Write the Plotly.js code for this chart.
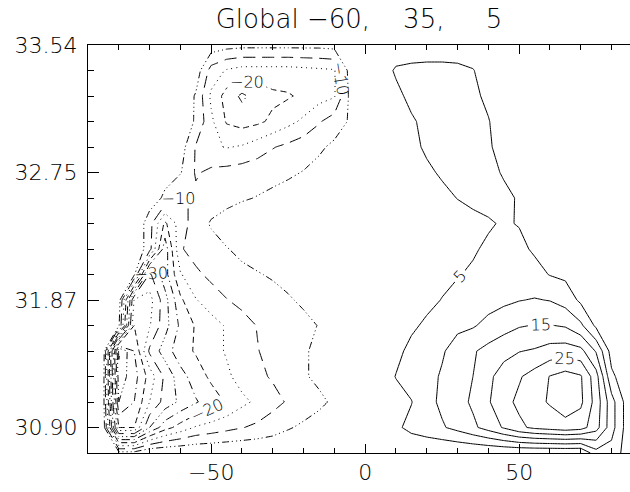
<!DOCTYPE html>
<html><head><meta charset="utf-8">
<script src="https://cdn.plot.ly/plotly-3.0.1.min.js"></script>
<style>html,body{margin:0;padding:0;background:#fff;}#chart{width:630px;height:492px;}</style>
</head><body><div id="chart"></div>
<script>
// grid: longitude columns and level rows
const lon = [-90,-85,-80,-75,-70,-65,-60,-55,-50,-45,-40,-35,-30,-25,-20,-15,-10,-5,0,5,10,15,20,25,30,35,40,45,50,55,60,65,70,75,80,85,90];
const lev = [0,1,2,3,4,5,6,7,8,9,10,11,12,13,14,15,16];

const row00 = [0,0,-3,-3,0,0,0,0,0,0,0,0,0,0,0,0,0,0,0, 0,0,0,0,0,0,0,0,0,0,0,0,0,0,8,8,3,0];
const row01 = [0,-2,-45,-45,-30,-22,-18,-14.5,-13,-11.5,-10.2,-9,-7.5,-5.5,-4,-3,-2,-1,0, 1,4,6.5,8,9.5,11.5,14,17,20.5,24,26,27,28,27,22,12,3,0];
const row02 = [0,-3,-55,-50,-40,-33,-29,-25.5,-22.5,-19.5,-16.2,-14,-11.5,-9.5,-8,-6,-4.2,-2.5,-1, 1,3,4.8,8.4,11,13.2,15.8,19.5,23.5,26,28.5,30.5,33,31,23,12,3,0];
const row03 = [0,-3,-58,-52,-43,-34,-27,-22.5,-19,-16,-13,-11,-9.5,-7.5,-5.5,-4,-2.5,-1.5,-0.5, 2,5.2,7,8.5,10.5,12.5,15,19,22,24.5,27,30.2,32,30.5,22,6,2,0];
const row04 = [0,-2,-61,-50,-34,-27.5,-22,-19.5,-17,-14.5,-12.5,-10.2,-8.5,-7,-5.5,-4,-3,-2,-1, 1,3.5,6.5,8,9.5,12,14.5,16.5,18.5,19.8,20.5,22,22.5,21.5,14.5,3,1,0];
const row05 = [0,-1,-4,-45,-40.5,-32,-24,-19.5,-17,-14.5,-12,-9.8,-8.5,-7.5,-6.3,-4.8,-3.5,-2.5,-1, 0.5,2,4,6,7.5,9,9.5,11.5,13,14.6,15.2,15.2,14.5,11,4,1,0.5,0];
const row06 = [0,0,-2,-40.5,-42,-32,-21,-15.3,-12.5,-10.2,-8.6,-7.6,-6.6,-5.5,-4.2,-3,-2,-1,0, 0.5,1.5,2.5,3.5,5.2,6,7,8,9,9.8,10.3,9.8,8,4,2,1,0.5,0];
const row07 = [0,0,0,-4,-36,-27,-15.5,-11,-8.8,-7,-6,-5.3,-4.5,-3.5,-2.5,-1.5,-1,-0.5,0, 0.5,1,2,2.8,3.5,4.8,5.5,5.7,6.2,6.5,6.5,4.8,4,2,1,0.5,0,0];
const row08 = [0,0,0,0,-8,-28,-10.5,-8,-6.8,-5.2,-4,-3,-2,-1.5,-1,-0.5,0,0,0, 0.5,1,1.5,2,2.8,3.5,4.6,5.6,6,6,4.4,3.5,2,1,0.5,0,0,0];
const row09 = [0,0,0,0,-8,-21,-12.5,-7.5,-4.5,-3,-2,-1.5,-1,-0.5,0,0,0,0,0, 0.5,1,1.5,2,2.5,3.2,4,4.6,5.4,4.8,3,2,1,0.5,0,0,0,0];
const row10 = [0,0,0,0,-2,-6,-11,-9,-7.5,-6.5,-5.5,-4.8,-4,-3.2,-2.5,-2,-1.5,-1,0, 0.5,1.5,2.5,3,4,5.1,5.8,6.2,6.2,4.5,2.5,1,0.5,0,0,0,0,0];
const row11 = [0,0,0,0,0,-3,-4.6,-10.5,-9,-8.3,-7.6,-7,-6.4,-5.7,-4.8,-3.5,-2.5,-1.5,0, 1,2,3,4.3,5.5,6.3,6.8,6.5,4.5,2,0.8,0,0,0,0,0,0,0];
const row12 = [0,0,0,0,0,0,-2.5,-10.4,-14,-15.3,-14.5,-12.5,-10.3,-8.8,-7.2,-5.8,-4,-2,0, 1,2,4,5.6,6.2,6.7,6.5,5.5,3.5,1.5,0.5,0,0,0,0,0,0,0];
const row13 = [0,0,0,0,0,0,-2,-5.5,-14,-20.5,-22,-21,-19,-16.5,-14,-10.5,-7.5,-4.5,-1, 1,2.5,4.5,6,6.8,6.8,6.5,5.2,3,1,0,0,0,0,0,0,0,0];
const row14 = [0,0,0,0,0,0,-1,-5.5,-16,-22,-26,-23,-21,-20.5,-19,-17,-15.5,-4,0, 1,4,6,6.5,6.8,6.5,5.8,4.2,2,0.5,0,0,0,0,0,0,0,0];
const row15 = [0,0,0,0,0,0,0,-2,-12,-15.5,-17,-17,-17,-17,-16.5,-16,-15.5,-3,0, 3,5.5,5.8,6,6,5.8,5.2,3,1,0,0,0,0,0,0,0,0,0];
const row16 = [0,0,0,0,0,0,0,0,-2,-3,-3.5,-3.5,-3.5,-3.5,-3.5,-3.5,-3,-1,0, 1,2.5,3,3,3,3,2.5,1,0,0,0,0,0,0,0,0,0,0];

const field = [row00,row01,row02,row03,row04,row05,row06,row07,row08,row09,row10,row11,row12,row13,row14,row15,row16];

const levels = [-60,-55,-50,-45,-40,-35,-30,-25,-20,-15,-10,-5,5,10,15,20,25,30];
const labelled = [5,15,25,-10,-20,-30];

const xTickVals = [-50,0,50];
const yTickVals = [1,6,11,16];
const yTickText = ['30.90','31.87','32.75','33.54'];
const titleText = 'Global \u221260,\u00a0\u00a0\u00a0\u00a035,\u00a0\u00a0\u00a0\u00a0\u00a05';

// IDL-like line styles for negative levels, cycling from -5 downward
const negDash = [
  '7px,3px,1px,3px,1px,3px,1px,3px', // dash-dot-dot-dot
  '12px,7px',                        // long dashes
  '1px,4px',                         // dotted
  '6px,4px',                         // dashed
  '8px,4px,1px,4px'                  // dash-dot
];

const FONT = 'DejaVu Sans';
const traces = levels.map(function(l){
  let dash = 'solid';
  if (l < 0) { dash = negDash[(Math.round(-l/5) - 1) % negDash.length]; }
  return {
    type: 'contour', x: lon, y: lev, z: field,
    autocontour: false,
    contours: {start: l, end: l, size: 5, coloring: 'none',
               showlabels: labelled.indexOf(l) >= 0,
               labelfont: {family: FONT, size: 16, weight: 200, color: '#000'}},
    line: {color: '#000', width: 1, dash: dash, smoothing: 0},
    showscale: false, hoverinfo: 'skip'
  };
});

const axisFont = {family: FONT, size: 22, weight: 200, color: '#000'};
const layout = {
  width: 630, height: 492,
  margin: {l: 88, r: 0, t: 45, b: 39},
  paper_bgcolor: '#fff', plot_bgcolor: '#fff',
  showlegend: false,
  title: {text: titleText, font: {family: FONT, size: 26, weight: 200, color: '#000'},
          x: 0.5, xref: 'paper', xanchor: 'center', y: 1 - 19/492, yref: 'container', yanchor: 'middle'},
  xaxis: {range: [-90, 86], tickvals: xTickVals, ticks: 'inside', ticklen: 9, tickwidth: 1, tickcolor: '#000',
          showline: true, linecolor: '#000', linewidth: 1, mirror: 'ticks', showgrid: false, zeroline: false,
          tickfont: axisFont,
          minor: {dtick: 10, tick0: 0, ticks: 'inside', ticklen: 5, tickcolor: '#000', showgrid: false}},
  yaxis: {range: [0, 16], tickmode: 'array', tickvals: yTickVals, ticktext: yTickText, ticks: 'inside', ticklen: 11,
          tickwidth: 1, tickcolor: '#000', showline: true, linecolor: '#000', linewidth: 1, showgrid: false, zeroline: false,
          tickfont: axisFont, ticklabelstandoff: 5,
          minor: {dtick: 1, tick0: 0, ticks: 'inside', ticklen: 6, tickcolor: '#000', showgrid: false}}
};

Plotly.newPlot('chart', traces, layout, {staticPlot: true, displayModeBar: false});
</script>
</body></html>
